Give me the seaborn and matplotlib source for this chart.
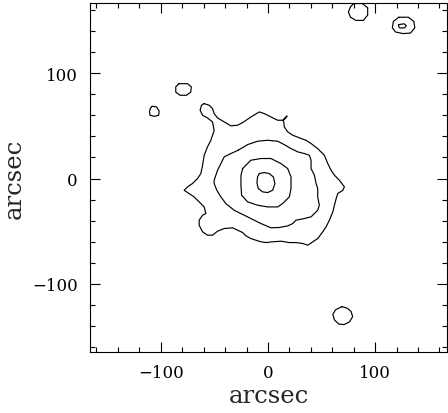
import numpy as np
import seaborn as sns
import matplotlib.pyplot as plt
from matplotlib.ticker import MultipleLocator

# contour traces (arcsec)
outer_x = [-59.5, -54.8, -51.7, -50.2, -47.0, -40.8, -34.6, -28.3, -23.6, -15.9, -8.1, -3.4,
           2.8, 9.1, 13.7, 17.8, 14.3, 14.7, 15.2, 18.4, 23.1, 29.3, 35.5, 40.2, 46.4, 52.6,
           55.8, 58.9, 62.0, 66.6, 71.3, 69.8, 65.1, 63.6, 62.0, 60.5, 57.3, 54.2, 51.1, 46.4,
           41.8, 37.1, 32.4, 26.2, 19.9, 12.1, 4.4, -1.9, -6.5, -11.2, -15.9, -20.6, -23.6,
           -28.3, -33.0, -40.8, -47.0, -51.7, -56.4, -61.0, -64.2, -64.2, -61.0, -57.9, -59.5,
           -64.2, -68.9, -73.6, -78.2, -75.0, -70.4, -65.7, -62.6, -61.0, -59.5, -56.4, -53.3,
           -50.2, -51.7, -56.4, -61.0, -63.3, -62.0, -59.5]
outer_y = [71.1, 69.5, 66.4, 61.6, 57.5, 53.7, 50.0, 50.6, 53.1, 58.4, 63.2, 61.6,
           58.4, 55.3, 55.3, 59.4, 55.0, 53.7, 49.0, 44.3, 41.1, 38.6, 36.3, 33.2, 28.4, 22.1,
           14.2, 7.9, 3.2, -1.6, -7.9, -11.1, -14.2, -19.0, -25.3, -31.6, -39.5, -45.8, -50.5, -56.9,
           -60.0, -63.2, -61.6, -60.7, -60.7, -59.4, -60.0, -60.7, -60.0, -58.5, -56.9, -54.3, -51.2,
           -49.0, -46.7, -47.4, -49.9, -53.7, -53.7, -50.5, -44.2, -39.5, -34.8, -33.2, -26.9,
           -22.1, -17.4, -14.2, -11.1, -7.9, -4.7, 0.0, 4.7, 12.6, 22.1, 30.1, 36.3,
           45.5, 53.7, 57.5, 60.0, 64.8, 69.5, 71.1]

mid_x = [-27.7, -19.0, -9.7, -0.3, 9.1, 15.2, 21.5, 27.8, 34.0, 38.6, 40.2, 40.2, 43.3, 44.9,
         46.4, 46.4, 47.9, 46.4, 43.3, 40.2, 34.0, 26.2, 23.1, 18.4, 10.6, 2.8, -6.5, -12.8,
         -22.1, -31.5, -39.3, -43.9, -47.7, -50.2, -50.2, -47.0, -43.9, -40.8, -34.6, -27.7]
mid_y = [26.9, 32.2, 35.4, 36.3, 35.4, 32.2, 28.4, 25.3, 23.7, 22.1, 17.4, 9.5, 3.2, -4.7,
         -9.5, -17.4, -25.3, -30.1, -33.2, -36.3, -37.9, -39.5, -42.7, -44.9, -46.4, -46.7, -42.7, -39.5,
         -34.8, -30.1, -23.7, -17.4, -11.1, -4.7, -1.6, 7.9, 14.2, 20.6, 23.7, 26.9]

inner_x = [-23.6, -15.9, -6.5, 2.8, 12.1, 18.4, 21.5, 21.5, 19.9, 13.7, 9.1, -0.3, -9.7,
           -19.0, -24.6, -25.2, -25.2, -23.6]
inner_y = [9.5, 17.4, 19.0, 19.0, 14.2, 9.5, 1.6, -9.5, -17.4, -23.7, -26.9, -26.9, -25.3,
           -22.1, -15.8, -6.3, 3.2, 9.5]

core_x = [-8.1, -3.4, 1.2, 5.0, 6.5, 4.4, -0.3, -5.0, -9.0, -10.3, -9.7, -8.1]
core_y = [4.7, 5.7, 4.7, 1.6, -4.7, -11.1, -13.3, -12.6, -9.5, -4.1, 1.6, 4.7]

# isolated sources
src_a_x = [80, 88, 93, 93, 89, 82, 77, 75, 77, 80]
src_a_y = [166, 166, 162, 155, 150, 150, 153, 158, 163, 166]
src_b_x = [-83, -75, -71.5, -72, -76, -82, -86, -86, -83]
src_b_y = [90, 90, 87, 82, 79, 79, 82, 87, 90]
src_c_x = [-108, -104, -101.5, -102, -106, -110, -110.5, -109.5, -108]
src_c_y = [68.5, 68, 64, 60, 59, 60, 64, 67, 68.5]
src_d_x = [69, 74, 77.5, 79, 76, 71, 66, 62, 60.5, 63, 69]
src_d_y = [-121.5, -123, -126, -131, -136, -138.5, -138, -134, -129, -124.5, -121.5]
src_e_x = [122, 131, 136, 137, 133, 126, 119, 116, 117, 122]
src_e_y = [153, 153, 149, 143, 138, 137.5, 139, 143, 149, 153]
src_e2_x = [122, 127, 129, 127.5, 123, 121.8, 122]
src_e2_y = [146, 146.8, 145, 143, 142.8, 144.5, 146]

traces = [(outer_x, outer_y), (mid_x, mid_y), (inner_x, inner_y), (core_x, core_y),
          (src_a_x, src_a_y), (src_b_x, src_b_y), (src_c_x, src_c_y), (src_d_x, src_d_y),
          (src_e_x, src_e_y), (src_e2_x, src_e2_y)]

sns.set_style("ticks")
plt.rcParams['font.family'] = ['DejaVu Serif']

fig = plt.figure(figsize=(4.48, 4.14), dpi=100)
ax = fig.add_axes([90 / 448, 61 / 414, 357 / 448, 349 / 414])

for tx, ty in traces:
    sns.lineplot(x=tx, y=ty, sort=False, estimator=None, color='black', lw=0.85, ax=ax)

ax.set_xlim(-166, 167)
ax.set_ylim(-164.5, 166.5)
ax.xaxis.set_major_locator(MultipleLocator(100))
ax.xaxis.set_minor_locator(MultipleLocator(20))
ax.yaxis.set_major_locator(MultipleLocator(100))
ax.yaxis.set_minor_locator(MultipleLocator(20))
ax.tick_params(which='both', direction='in', top=True, right=True, width=0.8, colors='black')
ax.tick_params(which='major', length=7, labelsize=12, pad=9)
ax.tick_params(which='minor', length=3.5)
for s in ax.spines.values():
    s.set_linewidth(0.8)
    s.set_color('black')

ax.set_xlabel('arcsec', fontsize=17.5)
ax.set_ylabel('arcsec', fontsize=17.5)
ax.xaxis.set_label_coords(0.5, -0.093)
ax.yaxis.set_label_coords(-0.18, 0.5)

fig.savefig('out.png', dpi=100)
